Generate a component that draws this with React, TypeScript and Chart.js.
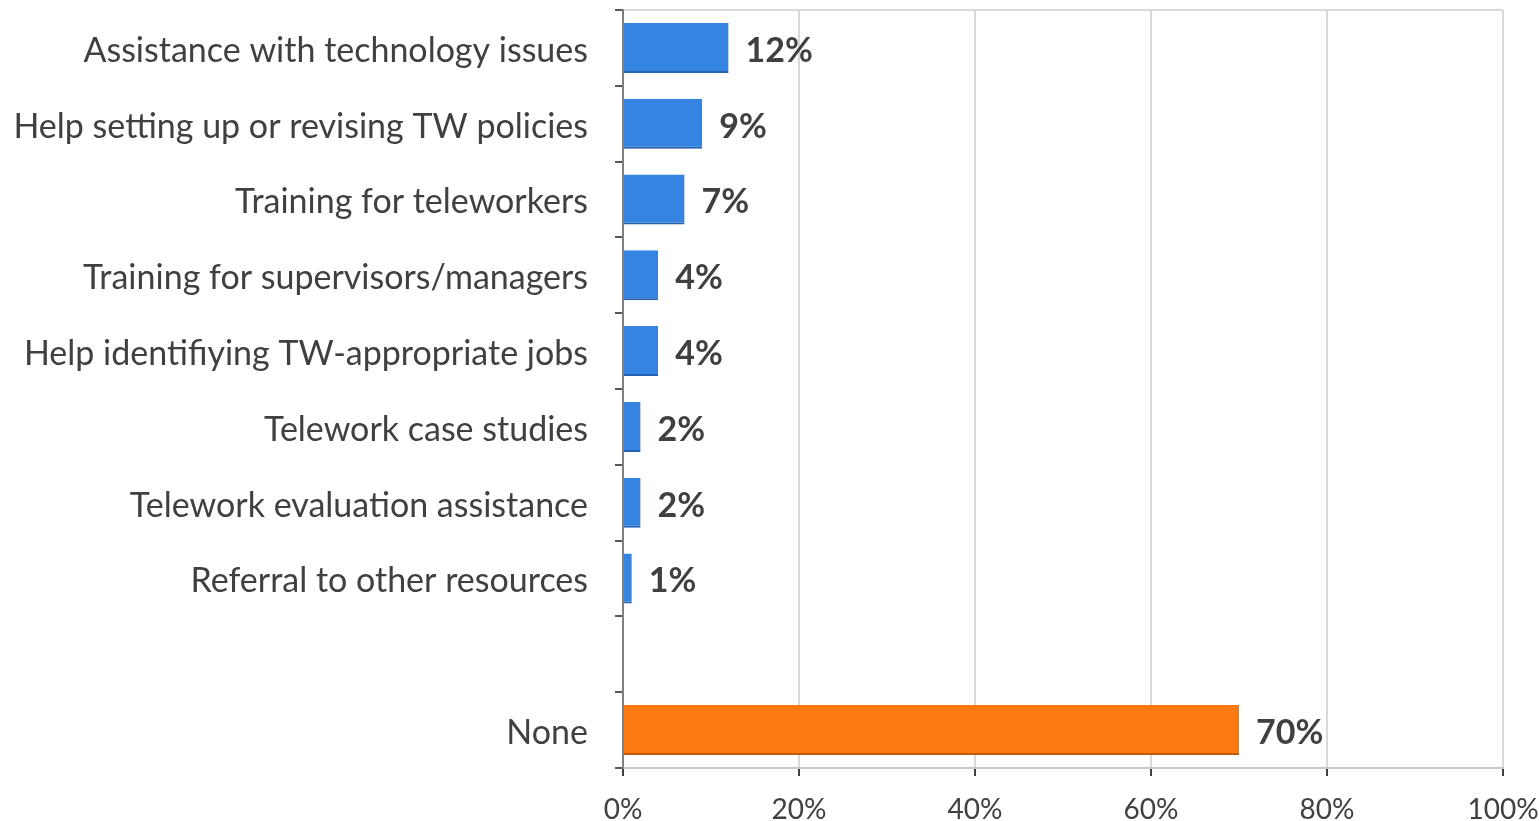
import React, { useEffect, useRef } from "react";
import { Chart, registerables } from "chart.js";

Chart.register(...registerables);

const categories: string[] = [
  "Assistance with technology issues",
  "Help setting up or revising TW policies",
  "Training for teleworkers",
  "Training for supervisors/managers",
  "Help identifiying TW-appropriate jobs",
  "Telework case studies",
  "Telework evaluation assistance",
  "Referral to other resources",
  "",
  "None",
];
const values: (number | null)[] = [12, 9, 7, 4, 4, 2, 2, 1, null, 70];
const valueLabels: string[] = ["12%", "9%", "7%", "4%", "4%", "2%", "2%", "1%", "", "70%"];
const xTicks: number[] = [0, 20, 40, 60, 80, 100];

const BLUE = "#3584e2";
const BLUE_EDGE = "#2563b0";
const ORANGE = "#fd7a12";
const ORANGE_EDGE = "#c45a08";
const FONT = "Lato, 'Open Sans', sans-serif";

const dataLabelPlugin = {
  id: "dataLabels",
  afterDatasetsDraw(chart: any) {
    const ctx = chart.ctx;
    const meta = chart.getDatasetMeta(0);
    ctx.save();
    ctx.font = `bold 34px ${FONT}`;
    ctx.fillStyle = "#404040";
    ctx.textAlign = "left";
    ctx.textBaseline = "middle";
    meta.data.forEach((bar: any, i: number) => {
      if (values[i] == null) return;
      ctx.fillText(valueLabels[i], bar.x + 17, bar.y + 3);
    });
    ctx.restore();
  },
};

export default function App() {
  const ref = useRef<HTMLCanvasElement>(null);
  useEffect(() => {
    if (!ref.current) return;
    const isNone = (i: number) => categories[i] === "None";
    const chart = new Chart(ref.current, {
      type: "bar",
      data: {
        labels: categories,
        datasets: [
          {
            data: values as any,
            backgroundColor: categories.map((_, i) => (isNone(i) ? ORANGE : BLUE)),
            borderColor: categories.map((_, i) => (isNone(i) ? ORANGE_EDGE : BLUE_EDGE)),
            borderWidth: { top: 0, right: 0, bottom: 2, left: 0 } as any,
            borderSkipped: false as any,
            barPercentage: 0.66,
            categoryPercentage: 1,
          },
        ],
      },
      options: {
        indexAxis: "y",
        animation: false,
        responsive: false,
        maintainAspectRatio: false,
        layout: { padding: { top: 10, right: 36, left: 0, bottom: 0 } },
        plugins: { legend: { display: false }, tooltip: { enabled: false } },
        scales: {
          x: {
            min: 0,
            max: 100,
            afterBuildTicks: (axis: any) => {
              axis.ticks = xTicks.map((v) => ({ value: v }));
            },
            afterFit: (axis: any) => {
              axis.height = 53;
              axis.paddingLeft = 0;
              axis.paddingRight = 0;
            },
            ticks: {
              callback: (v: any) => `${v}%`,
              color: "#404040",
              font: { family: FONT, size: 28 },
              padding: 17,
              maxRotation: 0,
            },
            grid: {
              color: "#d9d9d9",
              lineWidth: 2,
              tickLength: 8,
              tickColor: "#404040",
            },
            border: { color: "#c8c8c8", width: 2 },
          },
          y: {
            afterFit: (axis: any) => {
              axis.width = 623;
              axis.paddingTop = 0;
              axis.paddingBottom = 0;
            },
            ticks: {
              color: "#404040",
              font: { family: FONT, size: 34 },
              padding: 27,
              labelOffset: 3,
              autoSkip: false,
            },
            grid: {
              color: (c: any) => (c.index === 0 ? "#d9d9d9" : "rgba(0,0,0,0)"),
              lineWidth: 2,
              tickLength: 8,
              tickColor: "#595959",
              offset: true,
            },
            border: { color: "#808080", width: 2 },
          },
        },
      },
      plugins: [dataLabelPlugin],
    });
    return () => chart.destroy();
  }, []);
  return (
    <div style={{ position: "fixed", left: 0, top: 0, width: 1539, height: 821, background: "#fff" }}>
      <canvas ref={ref} width={1539} height={821} style={{ width: 1539, height: 821 }} />
    </div>
  );
}
